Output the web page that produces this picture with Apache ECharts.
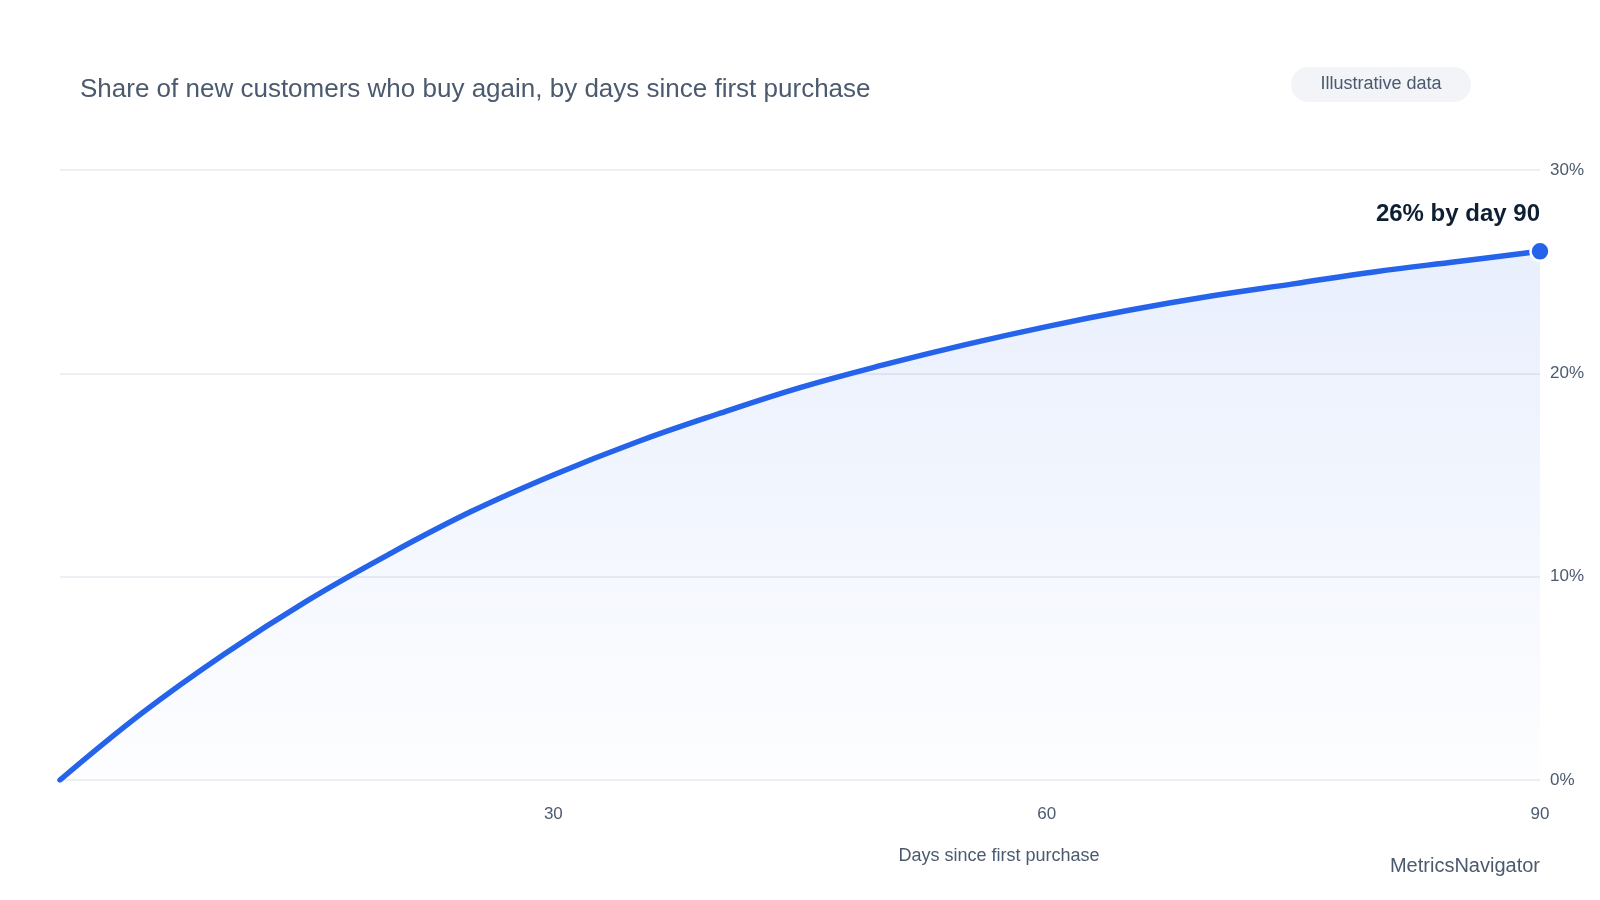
<!DOCTYPE html>
<html>
<head>
<meta charset="utf-8">
<title>Repeat purchase curve</title>
<script src="https://cdn.jsdelivr.net/npm/echarts@6/dist/echarts.min.js"></script>
<style>
  html, body { margin: 0; padding: 0; background: #ffffff; }
  #chart { width: 1600px; height: 900px; }
</style>
</head>
<body>
<div id="chart"></div>
<script>
// days since first purchase and share who bought again (%)
const days = [0, 5, 10, 15, 20, 25, 30, 35, 40, 45, 50, 55, 60, 65, 70, 75, 80, 85, 90]
const repeatShare = [0, 3.3, 6.2, 8.8, 11.1, 13.2, 15.0, 16.6, 18.0, 19.3, 20.4, 21.4, 22.3, 23.1, 23.8, 24.4, 25.0, 25.5, 26.0]
const yTicks = [0, 10, 20, 30]
const xTicks = [30, 60, 90]

const fontFamily = '"Liberation Sans", Arial, sans-serif'
const textColor = '#4b5a6e'
const lineColor = '#2563eb'

const chart = echarts.init(document.getElementById('chart'))

const points = days.map((d, i) => [d, repeatShare[i]])
const last = points[points.length - 1]

const option = {
  backgroundColor: '#ffffff',
  animation: false,
  textStyle: { fontFamily: fontFamily },
  title: {
    text: 'Share of new customers who buy again, by days since first purchase',
    left: 80,
    top: 77,
    padding: 0,
    textStyle: {
      color: textColor,
      fontSize: 26,
      fontWeight: 'normal',
      fontFamily: fontFamily
    }
  },
  grid: {
    left: 60,
    right: 60,
    top: 170,
    bottom: 120
  },
  xAxis: {
    type: 'value',
    min: 0,
    max: 90,
    interval: 30,
    axisLine: { show: false },
    axisTick: { show: false },
    splitLine: { show: false },
    axisLabel: {
      color: textColor,
      fontSize: 17,
      margin: 26,
      formatter: v => (xTicks.includes(v) ? String(v) : '')
    }
  },
  yAxis: {
    type: 'value',
    position: 'right',
    min: yTicks[0],
    max: yTicks[yTicks.length - 1],
    interval: 10,
    axisLine: { show: false },
    axisTick: { show: false },
    axisLabel: {
      color: textColor,
      fontSize: 17,
      margin: 10,
      formatter: '{value}%'
    },
    splitLine: {
      lineStyle: { color: '#eceff3', width: 2 }
    }
  },
  graphic: [
    {
      type: 'group',
      left: 1291,
      top: 67,
      children: [
        {
          type: 'rect',
          shape: { x: 0, y: 0, width: 180, height: 35, r: 17.5 },
          style: { fill: '#f2f4f7' }
        },
        {
          type: 'text',
          style: {
            x: 90,
            y: 17.5,
            text: 'Illustrative data',
            align: 'center',
            verticalAlign: 'middle',
            fill: textColor,
            fontSize: 18,
            fontFamily: fontFamily
          }
        }
      ]
    },
    {
      type: 'text',
      style: {
        x: 999,
        y: 856,
        text: 'Days since first purchase',
        align: 'center',
        verticalAlign: 'middle',
        fill: textColor,
        fontSize: 18,
        fontFamily: fontFamily
      }
    },
    {
      type: 'text',
      style: {
        x: 1540,
        y: 866,
        text: 'MetricsNavigator',
        align: 'right',
        verticalAlign: 'middle',
        fill: textColor,
        fontSize: 20,
        fontFamily: fontFamily
      }
    }
  ],
  series: [
    {
      type: 'line',
      data: points,
      smooth: 0.4,
      symbol: 'none',
      lineStyle: { color: lineColor, width: 5.5, cap: 'round' },
      areaStyle: {
        color: new echarts.graphic.LinearGradient(0, 0, 0, 1, [
          { offset: 0, color: 'rgba(37, 99, 235, 0.15)' },
          { offset: 1, color: 'rgba(37, 99, 235, 0.01)' }
        ])
      },
      z: 2
    },
    {
      type: 'scatter',
      data: [last],
      symbolSize: 19,
      itemStyle: { color: lineColor, borderColor: '#ffffff', borderWidth: 2.5, opacity: 1 },
      label: {
        show: true,
        position: 'top',
        distance: 14,
        align: 'right',
        formatter: last[1] + '% by day ' + last[0],
        color: '#0f1f33',
        fontSize: 24,
        fontWeight: 'bold',
        fontFamily: fontFamily
      },
      z: 3
    }
  ]
}

chart.setOption(option)
window.addEventListener('resize', () => chart.resize())
</script>
</body>
</html>
